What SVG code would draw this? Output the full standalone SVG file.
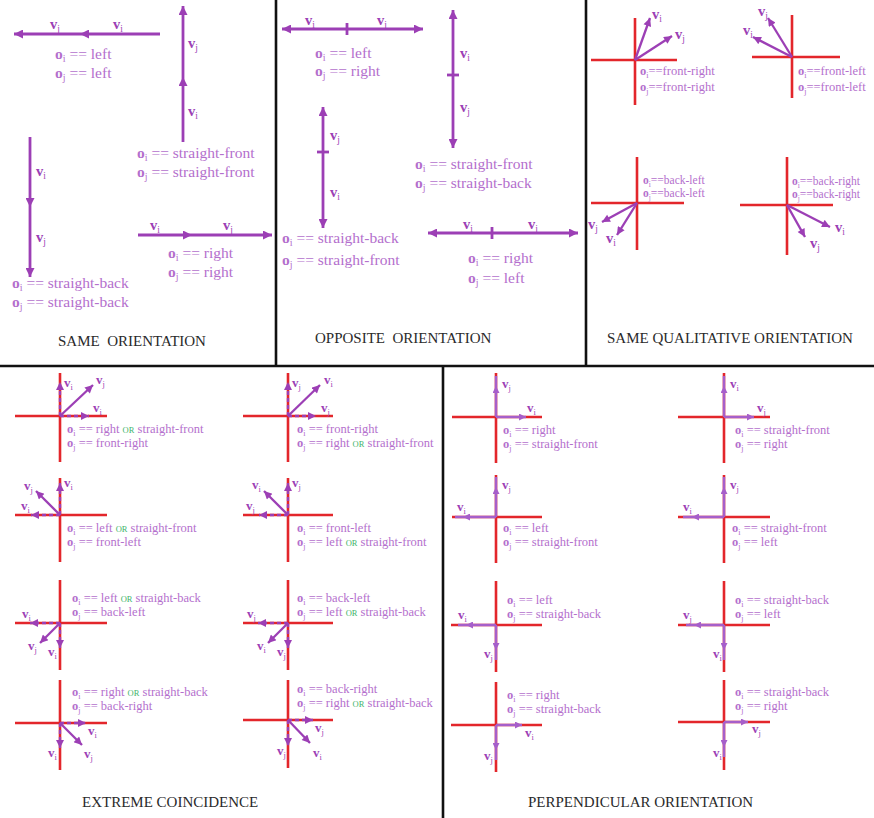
<svg xmlns="http://www.w3.org/2000/svg" width="874" height="818" viewBox="0 0 874 818">
<style>
.fr{stroke:#111;stroke-width:2.6;fill:none}
.rd{stroke:#e3262b;stroke-width:2.6;fill:none}
.pa{stroke:#9c3fb5;stroke-width:2.8;fill:none}
.pb{stroke:#9c3fb5;stroke-width:2.3;fill:none}
.pp{stroke:#a65fca;stroke-width:2.4;fill:none}
.dd{stroke-dasharray:4 3}
.t{font-family:"Liberation Serif","Times New Roman",serif;fill:#b46fcd}
.L{font-size:15.5px}
.M{font-size:12.5px}
.S{font-size:11.5px}
.b{font-weight:bold}
.k{font-size:65%;font-weight:normal}
.v{font-family:"Liberation Serif","Times New Roman",serif;font-weight:bold;fill:#9c3fb5;font-size:14.5px}
.vs{font-size:13px}
.or{fill:#3fb56a;font-size:8.5px}
.ti{font-family:"Liberation Serif","Times New Roman",serif;fill:#2a2a2a;font-size:15px}
</style>
<defs>
<marker id="ah" viewBox="0 0 10 10" refX="10" refY="5" markerWidth="12" markerHeight="9" markerUnits="userSpaceOnUse" orient="auto"><path d="M0,0 L10,5 L0,10 z" fill="#9c3fb5"/></marker>
<marker id="ahr" viewBox="0 0 10 10" refX="10" refY="5" markerWidth="12" markerHeight="9" markerUnits="userSpaceOnUse" orient="auto-start-reverse"><path d="M0,0 L10,5 L0,10 z" fill="#9c3fb5"/></marker>
<marker id="as" viewBox="0 0 10 10" refX="10" refY="5" markerWidth="9" markerHeight="8" markerUnits="userSpaceOnUse" orient="auto"><path d="M0,0 L10,5 L0,10 z" fill="#9c3fb5"/></marker>
<marker id="ap" viewBox="0 0 10 10" refX="10" refY="5" markerWidth="8" markerHeight="7" markerUnits="userSpaceOnUse" orient="auto"><path d="M0,0 L10,5 L0,10 z" fill="#a65fca"/></marker>
</defs>

<g id="frames">
<line class="fr" x1="276" y1="0" x2="276" y2="366"/>
<line class="fr" x1="586" y1="0" x2="586" y2="366"/>
<line class="fr" x1="0" y1="366" x2="874" y2="366"/>
<line class="fr" x1="443" y1="366" x2="443" y2="818"/>
</g>

<g id="connectors">
<polyline class="pa" points="160,34 80,34 14,34" marker-mid="url(#ah)" marker-end="url(#ah)"/>
<polyline class="pa" points="183,142 183,77 183,6" marker-mid="url(#ah)" marker-end="url(#ah)"/>
<polyline class="pa" points="30,137 30,207 30,277" marker-mid="url(#ah)" marker-end="url(#ah)"/>
<polyline class="pa" points="138,235 192,235 272,235" marker-mid="url(#ah)" marker-end="url(#ah)"/>
<line class="pa" x1="282" y1="29" x2="423" y2="29" marker-start="url(#ahr)" marker-end="url(#ah)"/>
<line class="pa" x1="347" y1="23" x2="347" y2="35"/>
<line class="pa" x1="453" y1="10" x2="453" y2="148" marker-start="url(#ahr)" marker-end="url(#ah)"/>
<line class="pa" x1="447" y1="75" x2="459" y2="75"/>
<line class="pa" x1="323" y1="107" x2="323" y2="228" marker-start="url(#ahr)" marker-end="url(#ah)"/>
<line class="pa" x1="317" y1="152" x2="329" y2="152"/>
<line class="pa" x1="428" y1="233" x2="578" y2="233" marker-start="url(#ahr)" marker-end="url(#ah)"/>
<line class="pa" x1="492" y1="227" x2="492" y2="239"/>
</g>

<g id="same-orientation" class="t L">
<text class="v" x="50" y="29">v<tspan class="k" dy="3">j</tspan></text>
<text class="v" x="113" y="29">v<tspan class="k" dy="3">i</tspan></text>
<text x="55" y="59"><tspan class="b">o</tspan><tspan class="k" dy="3">i</tspan><tspan dy="-3"> == left</tspan></text>
<text x="55" y="78"><tspan class="b">o</tspan><tspan class="k" dy="3">j</tspan><tspan dy="-3"> == left</tspan></text>
<text class="v" x="188" y="48">v<tspan class="k" dy="3">j</tspan></text>
<text class="v" x="188" y="116">v<tspan class="k" dy="3">i</tspan></text>
<text x="137" y="158"><tspan class="b">o</tspan><tspan class="k" dy="3">i</tspan><tspan dy="-3"> == straight-front</tspan></text>
<text x="137" y="177"><tspan class="b">o</tspan><tspan class="k" dy="3">j</tspan><tspan dy="-3"> == straight-front</tspan></text>
<text class="v" x="36" y="176">v<tspan class="k" dy="3">i</tspan></text>
<text class="v" x="36" y="242">v<tspan class="k" dy="3">j</tspan></text>
<text x="12" y="288"><tspan class="b">o</tspan><tspan class="k" dy="3">i</tspan><tspan dy="-3"> == straight-back</tspan></text>
<text x="12" y="307"><tspan class="b">o</tspan><tspan class="k" dy="3">j</tspan><tspan dy="-3"> == straight-back</tspan></text>
<text class="v" x="150" y="230">v<tspan class="k" dy="3">i</tspan></text>
<text class="v" x="223" y="230">v<tspan class="k" dy="3">j</tspan></text>
<text x="168" y="258"><tspan class="b">o</tspan><tspan class="k" dy="3">i</tspan><tspan dy="-3"> == right</tspan></text>
<text x="168" y="277"><tspan class="b">o</tspan><tspan class="k" dy="3">j</tspan><tspan dy="-3"> == right</tspan></text>
<text class="ti" x="58" y="346">SAME&#160; ORIENTATION</text>
</g>

<g id="opposite-orientation" class="t L">
<text class="v" x="305" y="25">v<tspan class="k" dy="3">i</tspan></text>
<text class="v" x="377" y="25">v<tspan class="k" dy="3">j</tspan></text>
<text x="315" y="58"><tspan class="b">o</tspan><tspan class="k" dy="3">i</tspan><tspan dy="-3"> == left</tspan></text>
<text x="315" y="76"><tspan class="b">o</tspan><tspan class="k" dy="3">j</tspan><tspan dy="-3"> == right</tspan></text>
<text class="v" x="460" y="58">v<tspan class="k" dy="3">i</tspan></text>
<text class="v" x="460" y="112">v<tspan class="k" dy="3">j</tspan></text>
<text x="415" y="169"><tspan class="b">o</tspan><tspan class="k" dy="3">i</tspan><tspan dy="-3"> == straight-front</tspan></text>
<text x="415" y="188"><tspan class="b">o</tspan><tspan class="k" dy="3">j</tspan><tspan dy="-3"> == straight-back</tspan></text>
<text class="v" x="330" y="140">v<tspan class="k" dy="3">j</tspan></text>
<text class="v" x="330" y="197">v<tspan class="k" dy="3">i</tspan></text>
<text x="282" y="243"><tspan class="b">o</tspan><tspan class="k" dy="3">i</tspan><tspan dy="-3"> == straight-back</tspan></text>
<text x="282" y="265"><tspan class="b">o</tspan><tspan class="k" dy="3">j</tspan><tspan dy="-3"> == straight-front</tspan></text>
<text class="v" x="463" y="229">v<tspan class="k" dy="3">i</tspan></text>
<text class="v" x="528" y="229">v<tspan class="k" dy="3">j</tspan></text>
<text x="468" y="263"><tspan class="b">o</tspan><tspan class="k" dy="3">i</tspan><tspan dy="-3"> == right</tspan></text>
<text x="468" y="283"><tspan class="b">o</tspan><tspan class="k" dy="3">j</tspan><tspan dy="-3"> == left</tspan></text>
<text class="ti" x="315" y="343">OPPOSITE&#160; ORIENTATION</text>
</g>

<g id="same-qualitative-orientation" class="t M">
<g id="sq-front-right">
<line class="rd" x1="591" y1="60" x2="677" y2="60"/><line class="rd" x1="635" y1="18" x2="635" y2="105"/>
<line class="pb" x1="635" y1="60" x2="650" y2="18" marker-end="url(#as)"/>
<line class="pb" x1="635" y1="60" x2="672" y2="36" marker-end="url(#as)"/>
<text class="v" x="652" y="19">v<tspan class="k" dy="3">i</tspan></text>
<text class="v" x="675" y="39">v<tspan class="k" dy="3">j</tspan></text>
<text x="640" y="75"><tspan class="b">o</tspan><tspan class="k" dy="3">i</tspan><tspan dy="-3">==front-right</tspan></text>
<text x="640" y="91"><tspan class="b">o</tspan><tspan class="k" dy="3">j</tspan><tspan dy="-3">==front-right</tspan></text>
</g>
<g id="sq-front-left">
<line class="rd" x1="752" y1="57" x2="840" y2="57"/><line class="rd" x1="792" y1="15" x2="792" y2="98"/>
<line class="pb" x1="792" y1="57" x2="768" y2="18" marker-end="url(#as)"/>
<line class="pb" x1="792" y1="57" x2="753" y2="37" marker-end="url(#as)"/>
<text class="v" x="758" y="16">v<tspan class="k" dy="3">j</tspan></text>
<text class="v" x="743" y="35">v<tspan class="k" dy="3">i</tspan></text>
<text x="798" y="75"><tspan class="b">o</tspan><tspan class="k" dy="3">i</tspan><tspan dy="-3">==front-left</tspan></text>
<text x="798" y="91"><tspan class="b">o</tspan><tspan class="k" dy="3">j</tspan><tspan dy="-3">==front-left</tspan></text>
</g>
<g id="sq-back-left">
<line class="rd" x1="591" y1="203" x2="684" y2="203"/><line class="rd" x1="637" y1="157" x2="637" y2="250"/>
<line class="pb" x1="637" y1="203" x2="602" y2="222" marker-end="url(#as)"/>
<line class="pb" x1="637" y1="203" x2="617" y2="235" marker-end="url(#as)"/>
<text class="v" x="588" y="229">v<tspan class="k" dy="3">j</tspan></text>
<text class="v" x="606" y="243">v<tspan class="k" dy="3">i</tspan></text>
<text class="S" x="643" y="184"><tspan class="b">o</tspan><tspan class="k" dy="2.5">i</tspan><tspan dy="-2.5">==back-left</tspan></text>
<text class="S" x="643" y="197"><tspan class="b">o</tspan><tspan class="k" dy="2.5">j</tspan><tspan dy="-2.5">==back-left</tspan></text>
</g>
<g id="sq-back-right">
<line class="rd" x1="740" y1="205" x2="833" y2="205"/><line class="rd" x1="787" y1="157" x2="787" y2="255"/>
<line class="pb" x1="787" y1="205" x2="830" y2="227" marker-end="url(#as)"/>
<line class="pb" x1="787" y1="205" x2="805" y2="237" marker-end="url(#as)"/>
<text class="v" x="835" y="232">v<tspan class="k" dy="3">i</tspan></text>
<text class="v" x="810" y="248">v<tspan class="k" dy="3">j</tspan></text>
<text class="S" x="792" y="185"><tspan class="b">o</tspan><tspan class="k" dy="2.5">i</tspan><tspan dy="-2.5">==back-right</tspan></text>
<text class="S" x="792" y="198"><tspan class="b">o</tspan><tspan class="k" dy="2.5">j</tspan><tspan dy="-2.5">==back-right</tspan></text>
</g>
<text class="ti" x="607" y="343">SAME QUALITATIVE ORIENTATION</text>
</g>

<g id="extreme-coincidence" class="t M">
<g id="ec1">
<line class="rd" x1="15" y1="416" x2="107" y2="416"/><line class="rd" x1="60" y1="373" x2="60" y2="462"/>
<line class="pb dd" x1="60" y1="416" x2="60" y2="382" marker-end="url(#as)"/>
<line class="pb" x1="60" y1="416" x2="93" y2="385" marker-end="url(#as)"/>
<line class="pb dd" x1="60" y1="416" x2="89" y2="416" marker-end="url(#as)"/>
<text class="v vs" x="64" y="387">v<tspan class="k" dy="3">i</tspan></text>
<text class="v vs" x="96" y="384">v<tspan class="k" dy="3">j</tspan></text>
<text class="v vs" x="93" y="412">v<tspan class="k" dy="3">i</tspan></text>
<text x="67" y="433"><tspan class="b">o</tspan><tspan class="k" dy="2.5">i</tspan><tspan dy="-2.5"> == right </tspan><tspan class="or">OR</tspan> straight-front</text>
<text x="67" y="447"><tspan class="b">o</tspan><tspan class="k" dy="2.5">j</tspan><tspan dy="-2.5"> == front-right</tspan></text>
</g>
<g id="ec2">
<line class="rd" x1="243" y1="416" x2="333" y2="416"/><line class="rd" x1="288" y1="373" x2="288" y2="462"/>
<line class="pb dd" x1="288" y1="416" x2="288" y2="382" marker-end="url(#as)"/>
<line class="pb" x1="288" y1="416" x2="320" y2="385" marker-end="url(#as)"/>
<line class="pb dd" x1="288" y1="416" x2="316" y2="416" marker-end="url(#as)"/>
<text class="v vs" x="292" y="387">v<tspan class="k" dy="3">j</tspan></text>
<text class="v vs" x="324" y="384">v<tspan class="k" dy="3">i</tspan></text>
<text class="v vs" x="321" y="412">v<tspan class="k" dy="3">j</tspan></text>
<text x="297" y="433"><tspan class="b">o</tspan><tspan class="k" dy="2.5">i</tspan><tspan dy="-2.5"> == front-right</tspan></text>
<text x="297" y="447"><tspan class="b">o</tspan><tspan class="k" dy="2.5">j</tspan><tspan dy="-2.5"> == right </tspan><tspan class="or">OR</tspan> straight-front</text>
</g>
<g id="ec3">
<line class="rd" x1="15" y1="515" x2="107" y2="515"/><line class="rd" x1="60" y1="478" x2="60" y2="562"/>
<line class="pb dd" x1="60" y1="515" x2="60" y2="483" marker-end="url(#as)"/>
<line class="pb" x1="60" y1="515" x2="36" y2="491" marker-end="url(#as)"/>
<line class="pb dd" x1="60" y1="515" x2="31" y2="515" marker-end="url(#as)"/>
<text class="v vs" x="64" y="487">v<tspan class="k" dy="3">i</tspan></text>
<text class="v vs" x="24" y="490">v<tspan class="k" dy="3">j</tspan></text>
<text class="v vs" x="21" y="510">v<tspan class="k" dy="3">i</tspan></text>
<text x="67" y="532"><tspan class="b">o</tspan><tspan class="k" dy="2.5">i</tspan><tspan dy="-2.5"> == left </tspan><tspan class="or">OR</tspan> straight-front</text>
<text x="67" y="546"><tspan class="b">o</tspan><tspan class="k" dy="2.5">j</tspan><tspan dy="-2.5"> == front-left</tspan></text>
</g>
<g id="ec4">
<line class="rd" x1="243" y1="515" x2="333" y2="515"/><line class="rd" x1="288" y1="478" x2="288" y2="562"/>
<line class="pb dd" x1="288" y1="515" x2="288" y2="483" marker-end="url(#as)"/>
<line class="pb" x1="288" y1="515" x2="264" y2="491" marker-end="url(#as)"/>
<line class="pb dd" x1="288" y1="515" x2="259" y2="515" marker-end="url(#as)"/>
<text class="v vs" x="292" y="487">v<tspan class="k" dy="3">j</tspan></text>
<text class="v vs" x="252" y="489">v<tspan class="k" dy="3">i</tspan></text>
<text class="v vs" x="246" y="510">v<tspan class="k" dy="3">j</tspan></text>
<text x="297" y="532"><tspan class="b">o</tspan><tspan class="k" dy="2.5">i</tspan><tspan dy="-2.5"> == front-left</tspan></text>
<text x="297" y="546"><tspan class="b">o</tspan><tspan class="k" dy="2.5">j</tspan><tspan dy="-2.5"> == left </tspan><tspan class="or">OR</tspan> straight-front</text>
</g>
<g id="ec5">
<line class="rd" x1="15" y1="623" x2="107" y2="623"/><line class="rd" x1="60" y1="580" x2="60" y2="670"/>
<line class="pb dd" x1="60" y1="623" x2="30" y2="623" marker-end="url(#as)"/>
<line class="pb" x1="60" y1="623" x2="40" y2="643" marker-end="url(#as)"/>
<line class="pb dd" x1="60" y1="623" x2="60" y2="648" marker-end="url(#as)"/>
<text class="v vs" x="22" y="618">v<tspan class="k" dy="3">i</tspan></text>
<text class="v vs" x="28" y="650">v<tspan class="k" dy="3">j</tspan></text>
<text class="v vs" x="48" y="656">v<tspan class="k" dy="3">i</tspan></text>
<text x="72" y="602"><tspan class="b">o</tspan><tspan class="k" dy="2.5">i</tspan><tspan dy="-2.5"> == left </tspan><tspan class="or">OR</tspan> straight-back</text>
<text x="72" y="616"><tspan class="b">o</tspan><tspan class="k" dy="2.5">j</tspan><tspan dy="-2.5"> == back-left</tspan></text>
</g>
<g id="ec6">
<line class="rd" x1="243" y1="623" x2="333" y2="623"/><line class="rd" x1="288" y1="580" x2="288" y2="670"/>
<line class="pb dd" x1="288" y1="623" x2="258" y2="623" marker-end="url(#as)"/>
<line class="pb" x1="288" y1="623" x2="268" y2="643" marker-end="url(#as)"/>
<line class="pb dd" x1="288" y1="623" x2="288" y2="648" marker-end="url(#as)"/>
<text class="v vs" x="247" y="618">v<tspan class="k" dy="3">j</tspan></text>
<text class="v vs" x="257" y="650">v<tspan class="k" dy="3">i</tspan></text>
<text class="v vs" x="277" y="656">v<tspan class="k" dy="3">j</tspan></text>
<text x="297" y="602"><tspan class="b">o</tspan><tspan class="k" dy="2.5">i</tspan><tspan dy="-2.5"> == back-left</tspan></text>
<text x="297" y="616"><tspan class="b">o</tspan><tspan class="k" dy="2.5">j</tspan><tspan dy="-2.5"> == left </tspan><tspan class="or">OR</tspan> straight-back</text>
</g>
<g id="ec7">
<line class="rd" x1="15" y1="723" x2="107" y2="723"/><line class="rd" x1="60" y1="680" x2="60" y2="770"/>
<line class="pb dd" x1="60" y1="723" x2="86" y2="723" marker-end="url(#as)"/>
<line class="pb" x1="60" y1="723" x2="82" y2="745" marker-end="url(#as)"/>
<line class="pb dd" x1="60" y1="723" x2="60" y2="748" marker-end="url(#as)"/>
<text class="v vs" x="88" y="735">v<tspan class="k" dy="3">i</tspan></text>
<text class="v vs" x="84" y="758">v<tspan class="k" dy="3">j</tspan></text>
<text class="v vs" x="48" y="757">v<tspan class="k" dy="3">i</tspan></text>
<text x="72" y="696"><tspan class="b">o</tspan><tspan class="k" dy="2.5">i</tspan><tspan dy="-2.5"> == right </tspan><tspan class="or">OR</tspan> straight-back</text>
<text x="72" y="710"><tspan class="b">o</tspan><tspan class="k" dy="2.5">j</tspan><tspan dy="-2.5"> == back-right</tspan></text>
</g>
<g id="ec8">
<line class="rd" x1="243" y1="720" x2="333" y2="720"/><line class="rd" x1="288" y1="680" x2="288" y2="768"/>
<line class="pb dd" x1="288" y1="720" x2="313" y2="720" marker-end="url(#as)"/>
<line class="pb" x1="288" y1="720" x2="310" y2="743" marker-end="url(#as)"/>
<line class="pb dd" x1="288" y1="720" x2="288" y2="746" marker-end="url(#as)"/>
<text class="v vs" x="315" y="732">v<tspan class="k" dy="3">j</tspan></text>
<text class="v vs" x="313" y="757">v<tspan class="k" dy="3">i</tspan></text>
<text class="v vs" x="277" y="755">v<tspan class="k" dy="3">j</tspan></text>
<text x="297" y="693"><tspan class="b">o</tspan><tspan class="k" dy="2.5">i</tspan><tspan dy="-2.5"> == back-right</tspan></text>
<text x="297" y="707"><tspan class="b">o</tspan><tspan class="k" dy="2.5">j</tspan><tspan dy="-2.5"> == right </tspan><tspan class="or">OR</tspan> straight-back</text>
</g>
<text class="ti" x="82" y="807">EXTREME COINCIDENCE</text>
</g>

<g id="perpendicular-orientation" class="t M">
<g id="po1">
<line class="rd" x1="452" y1="417" x2="542" y2="417"/><line class="rd" x1="496" y1="373" x2="496" y2="463"/>
<polyline class="pp" points="496,417 496,386 496,376" marker-mid="url(#ap)"/>
<line class="pp" x1="496" y1="417" x2="526" y2="417" marker-end="url(#ap)"/>
<text class="v vs" x="502" y="388">v<tspan class="k" dy="3">j</tspan></text>
<text class="v vs" x="527" y="412">v<tspan class="k" dy="3">i</tspan></text>
<text x="503" y="434"><tspan class="b">o</tspan><tspan class="k" dy="2.5">i</tspan><tspan dy="-2.5"> == right</tspan></text>
<text x="503" y="448"><tspan class="b">o</tspan><tspan class="k" dy="2.5">j</tspan><tspan dy="-2.5"> == straight-front</tspan></text>
</g>
<g id="po2">
<line class="rd" x1="678" y1="417" x2="770" y2="417"/><line class="rd" x1="724" y1="373" x2="724" y2="463"/>
<polyline class="pp" points="724,417 724,386 724,376" marker-mid="url(#ap)"/>
<line class="pp" x1="724" y1="417" x2="754" y2="417" marker-end="url(#ap)"/>
<text class="v vs" x="730" y="388">v<tspan class="k" dy="3">i</tspan></text>
<text class="v vs" x="757" y="412">v<tspan class="k" dy="3">j</tspan></text>
<text x="735" y="434"><tspan class="b">o</tspan><tspan class="k" dy="2.5">i</tspan><tspan dy="-2.5"> == straight-front</tspan></text>
<text x="735" y="448"><tspan class="b">o</tspan><tspan class="k" dy="2.5">j</tspan><tspan dy="-2.5"> == right</tspan></text>
</g>
<g id="po3">
<line class="rd" x1="452" y1="517" x2="542" y2="517"/><line class="rd" x1="496" y1="475" x2="496" y2="563"/>
<polyline class="pp" points="496,517 496,487 496,477" marker-mid="url(#ap)"/>
<polyline class="pp" points="496,517 463,517 455,517" marker-mid="url(#ap)"/>
<text class="v vs" x="502" y="489">v<tspan class="k" dy="3">j</tspan></text>
<text class="v vs" x="457" y="511">v<tspan class="k" dy="3">i</tspan></text>
<text x="503" y="532"><tspan class="b">o</tspan><tspan class="k" dy="2.5">i</tspan><tspan dy="-2.5"> == left</tspan></text>
<text x="503" y="546"><tspan class="b">o</tspan><tspan class="k" dy="2.5">j</tspan><tspan dy="-2.5"> == straight-front</tspan></text>
</g>
<g id="po4">
<line class="rd" x1="678" y1="517" x2="770" y2="517"/><line class="rd" x1="724" y1="475" x2="724" y2="563"/>
<polyline class="pp" points="724,517 724,487 724,477" marker-mid="url(#ap)"/>
<polyline class="pp" points="724,517 692,517 683,517" marker-mid="url(#ap)"/>
<text class="v vs" x="730" y="489">v<tspan class="k" dy="3">j</tspan></text>
<text class="v vs" x="683" y="511">v<tspan class="k" dy="3">i</tspan></text>
<text x="732" y="532"><tspan class="b">o</tspan><tspan class="k" dy="2.5">i</tspan><tspan dy="-2.5"> == straight-front</tspan></text>
<text x="732" y="546"><tspan class="b">o</tspan><tspan class="k" dy="2.5">j</tspan><tspan dy="-2.5"> == left</tspan></text>
</g>
<g id="po5">
<line class="rd" x1="451" y1="625" x2="542" y2="625"/><line class="rd" x1="496" y1="581" x2="496" y2="672"/>
<polyline class="pp" points="496,625 466,625 458,625" marker-mid="url(#ap)"/>
<polyline class="pp" points="496,625 496,650 496,660" marker-mid="url(#ap)"/>
<text class="v vs" x="458" y="619">v<tspan class="k" dy="3">i</tspan></text>
<text class="v vs" x="484" y="658">v<tspan class="k" dy="3">j</tspan></text>
<text x="507" y="604"><tspan class="b">o</tspan><tspan class="k" dy="2.5">i</tspan><tspan dy="-2.5"> == left</tspan></text>
<text x="507" y="618"><tspan class="b">o</tspan><tspan class="k" dy="2.5">j</tspan><tspan dy="-2.5"> == straight-back</tspan></text>
</g>
<g id="po6">
<line class="rd" x1="678" y1="625" x2="770" y2="625"/><line class="rd" x1="724" y1="581" x2="724" y2="672"/>
<polyline class="pp" points="724,625 694,625 686,625" marker-mid="url(#ap)"/>
<polyline class="pp" points="724,625 724,650 724,660" marker-mid="url(#ap)"/>
<text class="v vs" x="683" y="619">v<tspan class="k" dy="3">j</tspan></text>
<text class="v vs" x="713" y="658">v<tspan class="k" dy="3">i</tspan></text>
<text x="735" y="604"><tspan class="b">o</tspan><tspan class="k" dy="2.5">i</tspan><tspan dy="-2.5"> == straight-back</tspan></text>
<text x="735" y="618"><tspan class="b">o</tspan><tspan class="k" dy="2.5">j</tspan><tspan dy="-2.5"> == left</tspan></text>
</g>
<g id="po7">
<line class="rd" x1="451" y1="725" x2="542" y2="725"/><line class="rd" x1="496" y1="682" x2="496" y2="772"/>
<line class="pp" x1="496" y1="725" x2="522" y2="725" marker-end="url(#ap)"/>
<polyline class="pp" points="496,725 496,750 496,760" marker-mid="url(#ap)"/>
<text class="v vs" x="525" y="737">v<tspan class="k" dy="3">i</tspan></text>
<text class="v vs" x="484" y="760">v<tspan class="k" dy="3">j</tspan></text>
<text x="507" y="699"><tspan class="b">o</tspan><tspan class="k" dy="2.5">i</tspan><tspan dy="-2.5"> == right</tspan></text>
<text x="507" y="713"><tspan class="b">o</tspan><tspan class="k" dy="2.5">j</tspan><tspan dy="-2.5"> == straight-back</tspan></text>
</g>
<g id="po8">
<line class="rd" x1="678" y1="722" x2="770" y2="722"/><line class="rd" x1="724" y1="680" x2="724" y2="770"/>
<line class="pp" x1="724" y1="722" x2="748" y2="722" marker-end="url(#ap)"/>
<polyline class="pp" points="724,722 724,747 724,757" marker-mid="url(#ap)"/>
<text class="v vs" x="752" y="733">v<tspan class="k" dy="3">j</tspan></text>
<text class="v vs" x="713" y="757">v<tspan class="k" dy="3">i</tspan></text>
<text x="735" y="696"><tspan class="b">o</tspan><tspan class="k" dy="2.5">i</tspan><tspan dy="-2.5"> == straight-back</tspan></text>
<text x="735" y="710"><tspan class="b">o</tspan><tspan class="k" dy="2.5">j</tspan><tspan dy="-2.5"> == right</tspan></text>
</g>
<text class="ti" x="528" y="807">PERPENDICULAR ORIENTATION</text>
</g>
</svg>
